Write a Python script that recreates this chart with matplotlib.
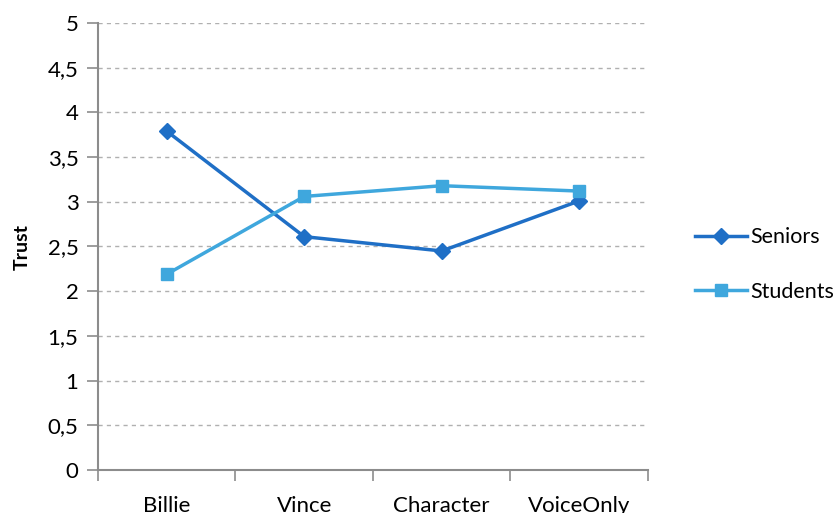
import matplotlib
matplotlib.use("Agg")
import matplotlib.pyplot as plt

categories = ["Billie", "Vince", "Character", "VoiceOnly"]
seniors = [3.79, 2.61, 2.45, 3.01]
students = [2.19, 3.06, 3.18, 3.12]
yticks = [0, 0.5, 1, 1.5, 2, 2.5, 3, 3.5, 4, 4.5, 5]
ytick_labels = ["0", "0,5", "1", "1,5", "2", "2,5", "3", "3,5", "4", "4,5", "5"]

plt.rcParams['font.family'] = ['Lato', 'DejaVu Sans']

fig = plt.figure(figsize=(8.37, 5.13), dpi=100)
ax = fig.add_axes([98/837, 43/513, 550/837, 447/513])

x = list(range(len(categories)))
c_sen = "#1F6FC6"
c_stu = "#3FA7DD"
ax.plot(x, seniors, color=c_sen, lw=2.5, marker="D", ms=8, label="Seniors", zorder=3)
ax.plot(x, students, color=c_stu, lw=2.5, marker="s", ms=9, label="Students", zorder=3)

ax.set_xlim(-0.5, len(categories) - 0.5)
ax.set_ylim(0, 5)
ax.set_yticks(yticks)
ax.set_yticklabels(ytick_labels)
ax.set_xticks(x)
ax.set_xticklabels(categories)
ax.set_xticks([i - 0.5 for i in range(len(categories) + 1)], minor=True)
ax.tick_params(axis="x", which="major", length=0, pad=19, labelsize=16)
ax.tick_params(axis="x", which="minor", length=8, width=1.2, color="#8c8c8c", direction="out")
ax.tick_params(axis="y", length=8, width=1.2, color="#8c8c8c", labelsize=16, pad=6)

for s in ["top", "right"]:
    ax.spines[s].set_visible(False)
for s in ["left", "bottom"]:
    ax.spines[s].set_color("#8c8c8c")
    ax.spines[s].set_linewidth(1.5)

ax.yaxis.grid(True, linestyle=(0, (3, 3)), color="#b0b0b0", lw=1)
ax.set_axisbelow(True)

ax.set_ylabel("Trust", fontsize=14, fontweight="bold", labelpad=12)

ax.legend(loc="center left", bbox_to_anchor=(1.07, 0.46), frameon=False,
          fontsize=15.5, handlelength=2.4, handletextpad=0.15, labelspacing=1.6,
          borderaxespad=0)

fig.savefig("out.png", dpi=100)
